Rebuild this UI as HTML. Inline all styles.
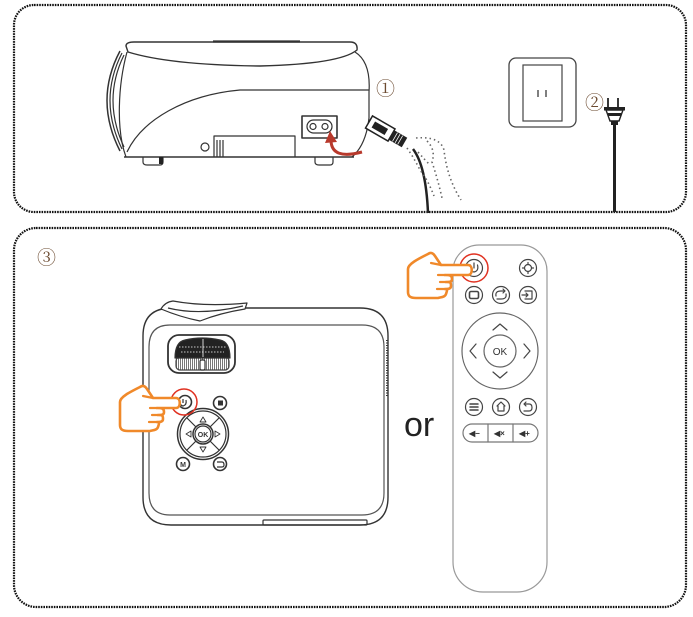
<!DOCTYPE html>
<html><head><meta charset="utf-8"><style>
html,body{margin:0;padding:0;background:#fff;}
svg{display:block;}
.t{font-family:"Liberation Serif","Noto Serif CJK SC",serif;}
</style></head><body>
<svg width="693" height="617" viewBox="0 0 693 617" xmlns="http://www.w3.org/2000/svg">
<defs>
<pattern id="hatch" width="2" height="4" patternUnits="userSpaceOnUse"><rect width="2" height="4" fill="#fff"/><rect width="1" height="4" fill="#777"/></pattern>
</defs>
<!-- panels -->
<rect x="14" y="5" width="672" height="207" rx="20" fill="none" stroke="#111" stroke-width="2.2" stroke-dasharray="1.6 1"/>
<rect x="14" y="228" width="672" height="379" rx="22" fill="none" stroke="#111" stroke-width="2.2" stroke-dasharray="1.6 1"/>

<!-- ===== top projector side view ===== -->
<g fill="none" stroke="#333" stroke-width="1.2" stroke-linejoin="round">
  <!-- lens ring -->
  <path d="M120,51 Q94,100 120,151" stroke-width="1.5"/>
  <path d="M122,53 Q98,100 122,149"/>
  <path d="M124,55 Q102,100 124,147"/>
  <!-- cap -->
  <path d="M126,46 Q126,42 134,42 L350,42 Q358,42 357,50 Q340,64 260,66 Q170,65 128,52 Z" fill="#fff" stroke-width="1.4"/>
  <path d="M213,41.5 L300,41.5" stroke-width="2.2"/>
  <!-- body -->
  <path d="M127,52 C118,85 116,130 126,157"/>
  <path d="M355,52 Q371,62 369,92 L369,118 Q366,145 352,157"/>
  <path d="M124,157 L354,157" stroke-width="1.4"/>
  <path d="M369,90 L240,90 C185,95 142,120 127,152"/>
  <!-- socket -->
  <rect x="302" y="116" width="35" height="22" stroke-width="1.6"/>
  <rect x="307" y="120" width="25" height="13" rx="6.5"/>
  <circle cx="313" cy="126.5" r="3"/>
  <circle cx="325" cy="126.5" r="3"/>
  <!-- bottom panel -->
  <path d="M214,157 L214,136 L295,136 L295,157"/>
  <path d="M217,140 L217,157 M220,140 L220,157 M223,140 L223,157"/>
  <circle cx="205" cy="147" r="4"/>
  <!-- feet -->
  <path d="M143,157 L143,162 Q143,165 147,165 L160,165 Q163,165 163,162 L163,157"/>
  <path d="M315,157 L315,162 Q315,165 319,165 L330,165 Q333,165 333,162 L333,157"/>
</g>
<rect x="159" y="157" width="4" height="7" fill="#222"/>
<!-- red arrow -->
<path d="M331,141 Q332,160 362,152" fill="none" stroke="#b8392c" stroke-width="3"/>
<polygon points="325,143 330,131 337,142" fill="#b8392c"/>

<text x="376" y="95" class="t" font-size="19" fill="#6b4a30">①</text>

<!-- plug connector -->
<g transform="translate(369,122) rotate(30)">
  <rect x="0" y="-7" width="26" height="14" fill="#fff" stroke="#222" stroke-width="1.5"/>
  <rect x="5" y="-3.5" width="15" height="7" fill="#222"/>
  <rect x="26" y="-5.5" width="15" height="11" fill="#222"/>
  <path d="M30,-5 L30,5 M33,-5 L33,5 M36,-5 L36,5" stroke="#fff" stroke-width="0.8"/>
</g>
<path d="M413,149 Q426,166 428,213" fill="none" stroke="#222" stroke-width="2.5"/>
<!-- dotted hand -->
<g fill="none" stroke="#666" stroke-width="1.6" stroke-dasharray="1.5 3">
  <path d="M416,138 Q440,136 444,150 Q447,178 461,200"/>
  <path d="M427,141 Q436,150 432,162 Q438,180 442,198"/>
  <path d="M407,148 Q414,158 420,170 Q428,180 434,196"/>
  <path d="M418,152 Q425,160 430,165"/>
</g>

<!-- outlet -->
<rect x="509" y="58" width="67" height="69" rx="7" fill="none" stroke="#444" stroke-width="1.3"/>
<rect x="523" y="65" width="39" height="56" fill="none" stroke="#444" stroke-width="1.2"/>
<path d="M538,90 L538,97 M546,90 L546,97" stroke="#555" stroke-width="1.5"/>

<text x="585" y="109" class="t" font-size="19" fill="#6b4a30">②</text>
<!-- wall plug -->
<path d="M608,98 L608,108 M618,98 L618,108" stroke="#222" stroke-width="1.8"/>
<rect x="604" y="107" width="21" height="3.5" fill="#222"/>
<path d="M606,110 L623,110 L619,121 L610,121 Z" fill="#fff" stroke="#222" stroke-width="1.4"/>
<rect x="608" y="113" width="13" height="3" fill="#222"/>
<rect x="611" y="121" width="7" height="4" fill="#222"/>
<path d="M614.5,124 L614.5,212" stroke="#222" stroke-width="3"/>

<!-- ===== bottom ===== -->
<text x="37" y="264" class="t" font-size="19" fill="#6b4a30">③</text>

<!-- top-view projector -->
<g fill="none" stroke="#333" stroke-width="1.2" stroke-linejoin="round">
  <path d="M172,308 L360,308 Q388,308 388,336 L388,497 Q388,525 360,525 L171,525 Q143,525 143,497 L143,336 Q143,308 172,308 Z" stroke-width="1.4"/>
  <path d="M170,325 L362,325 Q384,325 384,347 L384,493 Q384,515 362,515 L170,515 Q149,515 149,493 L149,347 Q149,325 170,325 Z" stroke="#555"/>
  <!-- strap -->
  <path d="M161,309 Q165,302 173,301 Q205,307 247,303 L245,309 Q220,313 200,321 Q180,317 161,309 Z" fill="#fff"/>
  <path d="M168,308 Q200,316 243,306"/>
  <!-- lens -->
  <rect x="168" y="335" width="67" height="38" rx="11" stroke-width="1.8" fill="#fff"/>
  <rect x="176" y="357" width="53" height="13" rx="4" fill="url(#hatch)" stroke="#444"/>
  <path d="M175,358 Q175,342 185,340 Q202,336 220,340 Q230,342 230,358 Z" fill="#222"/>
  <path d="M179,347 L226,347 M181,352 L224,352" stroke="#fff" stroke-width="0.8" stroke-dasharray="1.5 1.5"/>
  <path d="M203,339 L203,357" stroke="#fff" stroke-width="0.8"/>
  <rect x="200" y="360" width="5" height="10" rx="1.5" fill="#fff" stroke="#333"/>
  <!-- side hatch -->
  <path d="M387,340 L387,396" stroke="#333" stroke-width="2" stroke-dasharray="1 1.5"/>
  <!-- bottom vent -->
  <rect x="263" y="520" width="104" height="5" rx="1"/>
  <!-- buttons -->
  <circle cx="185" cy="402" r="6.5" stroke-width="1.6"/>
  <circle cx="220" cy="403" r="6.5" stroke-width="1.6"/>
  <circle cx="183" cy="464" r="6.5" stroke-width="1.6"/>
  <circle cx="220" cy="464" r="6.5" stroke-width="1.6"/>
  <!-- d-pad -->
  <circle cx="203" cy="434" r="25.5" stroke-width="1.5"/>
  <circle cx="203" cy="434" r="23"/>
  <circle cx="203" cy="434" r="10" stroke-width="1.5"/>
  <circle cx="203" cy="434" r="8"/>
  <path d="M186.5,417.5 L196,427 M219.5,417.5 L210,427 M186.5,450.5 L196,441 M219.5,450.5 L210,441"/>
  <path d="M203,417 L200,422 L206,422 Z M203,452 L200,447 L206,447 Z M186,434 L191,431 L191,437 Z M220,434 L215,431 L215,437 Z" stroke-width="0.9"/>
</g>
<g fill="#333" font-family="Liberation Sans, sans-serif" font-weight="bold" text-anchor="middle">
  <text x="203" y="437" font-size="7">OK</text>
  <text x="183" y="467" font-size="7">M</text>
</g>
<path d="M183,399 L183,403 M180,400 Q179,405 183,406 Q187,405 186,400" fill="none" stroke="#333" stroke-width="1.2"/>
<rect x="218" y="400.5" width="5" height="5" fill="#333"/>
<path d="M217,462 L222,462 Q224,462 224,465 Q224,467 222,467 L217,467" fill="none" stroke="#333" stroke-width="1.2"/>

<!-- red circle + hand (projector) -->
<circle cx="184" cy="402" r="13" fill="none" stroke="#e03222" stroke-width="1.5"/>
<g transform="translate(110,375)">
<path d="M10,27 C10,22 20,17 30,12 C33,10 35,11 37,14 L43,23 L66,23 C71,23 71,33 66,33 L47,33 C53,33 54,34 54,37 C54,40 52,40 48,40 C53,40 53,41 53,44 C53,47 50,47 47,47 C50,47 49,49 48,52 C47,55 44,55 40,56 L18,56 C12,56 10,54 10,50 Z" fill="#fff" stroke="#f0892a" stroke-width="2.6" stroke-linejoin="round"/>
<path d="M33,21 L43,23 M40,33 L47,33 M42,40 L48,40 M39,47 L47,47" fill="none" stroke="#f0892a" stroke-width="2.2" stroke-linecap="round"/>
</g>

<!-- or -->
<text x="404" y="436" font-family="Liberation Sans, sans-serif" font-size="34" fill="#222">or</text>

<!-- remote -->
<path d="M453,271 A26,26 0 0 1 479,245 L521,245 A26,26 0 0 1 547,271 L547,562 A30,30 0 0 1 517,592 L483,592 A30,30 0 0 1 453,562 Z" fill="none" stroke="#999" stroke-width="1.2"/>
<g fill="none" stroke="#444" stroke-width="1.2" stroke-linecap="round" stroke-linejoin="round">
  <circle cx="474" cy="268" r="8.5"/>
  <circle cx="528" cy="268" r="8.5"/>
  <circle cx="474" cy="295" r="8.5"/>
  <circle cx="501" cy="295" r="8.5"/>
  <circle cx="528" cy="295" r="8.5"/>
  <circle cx="474" cy="407" r="8.5"/>
  <circle cx="501" cy="407" r="8.5"/>
  <circle cx="528" cy="407" r="8.5"/>
  <circle cx="500" cy="351" r="38" stroke="#666"/>
  <circle cx="500" cy="351" r="16" stroke="#666"/>
  <rect x="463" y="424" width="75" height="18" rx="9" stroke="#777"/>
  <path d="M488,424 L488,442 M513,424 L513,442" stroke="#777"/>
  <!-- icons -->
  <path d="M474,263 L474,268 M470.5,265 Q469,271 474,272 Q479,271 477.5,265"/>
  <circle cx="528" cy="268" r="3.5"/>
  <path d="M528,262.5 L528,264.5 M528,271.5 L528,273.5 M522.5,268 L524.5,268 M531.5,268 L533.5,268"/>
  <rect x="469.5" y="291.5" width="9" height="7" rx="1.5" stroke-width="1.6"/>
  <path d="M496,296 Q495,291 501,291 L505,291 M503,289 L505,291 L503,293 M506,294 Q507,299 501,299 L497,299"/>
  <path d="M525,291 L532,291 L532,299 L525,299 M522,295 L528,295 M526,293 L528,295 L526,297"/>
  <path d="M493,330 L500,324 L507,330 M493,372 L500,378 L507,372 M476,344 L470,351 L476,358 M524,344 L530,351 L524,358"/>
  <path d="M470,404 L478,404 M470,407 L478,407 M470,410 L478,410" stroke-width="1.5"/>
  <path d="M497,406 L501,402 L505,406 L504,406 L504,411 L498,411 L498,406 Z"/>
  <path d="M525,404 L529,404 Q532,404 532,407.5 Q532,411 529,411 L524,411 M526,402 L524,404 L526,406"/>
</g>
<text x="500" y="355" font-family="Liberation Sans, sans-serif" font-size="10" fill="#333" text-anchor="middle">OK</text>
<g fill="#333" font-family="Liberation Sans, sans-serif" font-size="8" font-weight="bold">
  <text x="469" y="436">◀−</text>
  <text x="494" y="436">◀×</text>
  <text x="519" y="436">◀+</text>
</g>

<!-- red circle + hand (remote) -->
<circle cx="474" cy="268" r="14" fill="none" stroke="#e03222" stroke-width="1.5"/>
<g transform="translate(398,242)">
<path d="M10,27 C10,22 20,17 30,12 C33,10 35,11 37,14 L43,23 L70,23 C75,23 75,33 70,33 L47,33 C53,33 54,34 54,37 C54,40 52,40 48,40 C53,40 53,41 53,44 C53,47 50,47 47,47 C50,47 49,49 48,52 C47,55 44,55 40,56 L18,56 C12,56 10,54 10,50 Z" fill="#fff" stroke="#f0892a" stroke-width="2.6" stroke-linejoin="round"/>
<path d="M33,21 L43,23 M40,33 L47,33 M42,40 L48,40 M39,47 L47,47" fill="none" stroke="#f0892a" stroke-width="2.2" stroke-linecap="round"/>
</g>
</svg>
</body></html>
